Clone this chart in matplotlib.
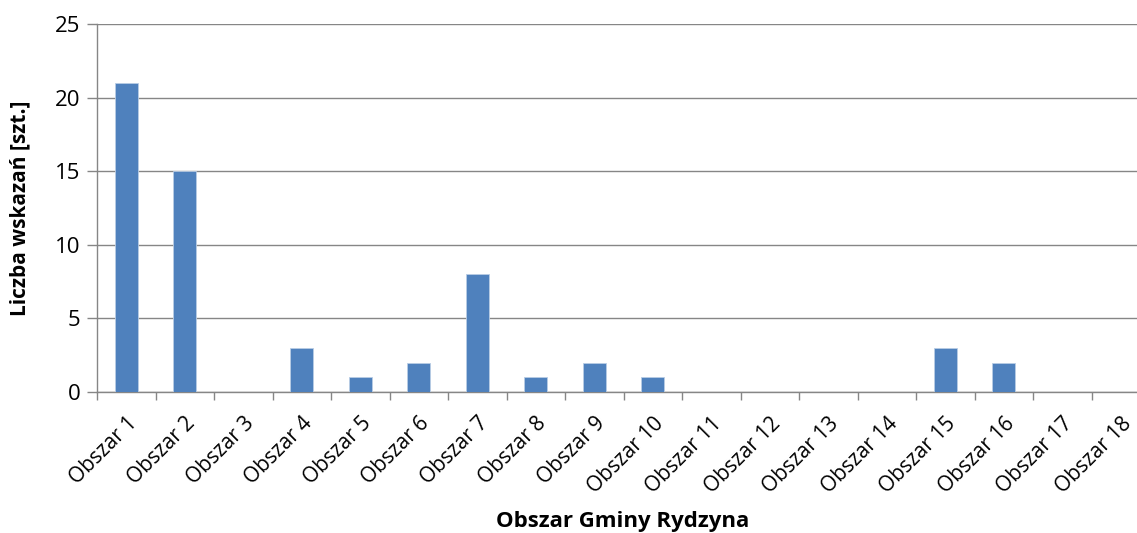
import matplotlib
matplotlib.use("Agg")
import matplotlib.pyplot as plt
import numpy as np

plt.rcParams['font.family'] = ['Open Sans', 'DejaVu Sans']

categories = [f"Obszar {i}" for i in range(1, 19)]
values = [21, 15, 0, 3, 1, 2, 8, 1, 2, 1, 0, 0, 0, 0, 3, 2, 0, 0]
yticks = [0, 5, 10, 15, 20, 25]

W, H = 1137, 533
fig = plt.figure(figsize=(W / 100, H / 100), dpi=100)
left, right, top, bottom = 97, 1150, 24, 392
ax = fig.add_axes([left / W, 1 - bottom / H, (right - left) / W, (bottom - top) / H])

x = np.arange(len(categories))
ax.bar(x, values, width=0.4, color='#4F81BD', edgecolor='#B9CDE5', linewidth=0.6, zorder=3)

ax.set_xlim(-0.5, len(categories) - 0.5)
ax.set_ylim(0, 25)
ax.set_yticks(yticks)
ax.set_yticklabels([str(v) for v in yticks], fontsize=16)
ax.yaxis.grid(True, color='#868686', linewidth=1.0, zorder=0)
ax.set_axisbelow(True)

ax.set_xticks(x)
ax.set_xticklabels(categories, rotation=45, ha='right', rotation_mode='anchor', fontsize=15)
ax.set_xticks(np.arange(len(categories) + 1) - 0.5, minor=True)
ax.tick_params(axis='x', which='major', length=0, pad=15)
ax.tick_params(axis='x', which='minor', length=6, color='#868686', width=1)
ax.tick_params(axis='y', length=7, color='#868686', width=1, pad=5)

for s in ['top', 'right']:
    ax.spines[s].set_visible(False)
for s in ['left', 'bottom']:
    ax.spines[s].set_color('#868686')
    ax.spines[s].set_linewidth(1)

fig.text(20 / W, 1 - 208 / H, 'Liczba wskazań [szt.]', rotation=90, ha='center', va='center',
         fontsize=15, fontweight='bold')
fig.text(623 / W, 1 - 522 / H, 'Obszar Gminy Rydzyna', ha='center', va='center',
         fontsize=16, fontweight='bold')

fig.savefig('out.png', dpi=100)
